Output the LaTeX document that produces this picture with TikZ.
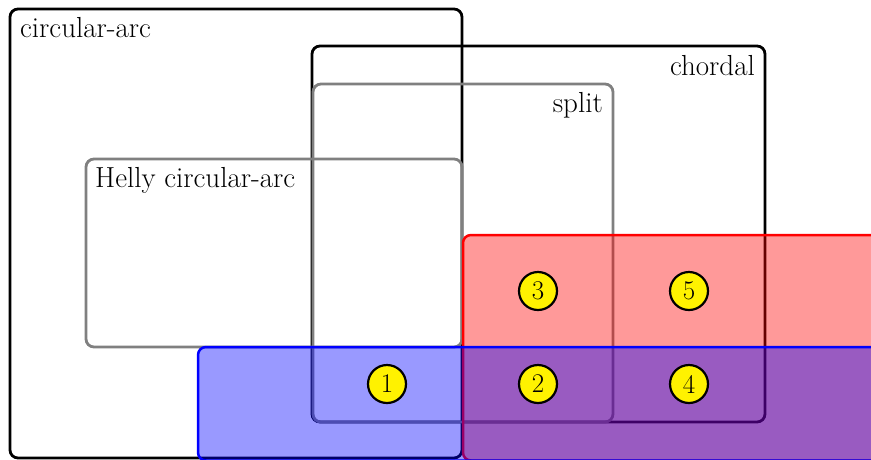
\documentclass[tikz,border=0pt]{standalone}
\begin{document}
\begin{tikzpicture}[x=1pt,y=-1pt,
  setbox/.style={rounded corners=8pt,line width=2.8pt},
  blackbox/.style={setbox,draw=black},
  graybox/.style={setbox,draw=black!50},
  redbox/.style={setbox,draw=red,fill=red,fill opacity=0.4,line width=2.5pt},
  bluebox/.style={setbox,draw=blue,fill=blue,fill opacity=0.4,line width=2.5pt},
  lbl/.style={font=\fontsize{29}{34}\selectfont,inner sep=0pt},
  num/.style={circle,draw=black,line width=2.2pt,fill=yellow,minimum size=38pt,inner sep=0pt,font=\fontsize{27}{32}\selectfont}]
\clip (0,0) rectangle (871,459);
\fill[white] (0,0) rectangle (871,459);
% boxes
\draw[blackbox] (10,9) rectangle (462,458);
\draw[blackbox] (312,46) rectangle (765,422);
\draw[graybox] (313,84) rectangle (613,422);
\draw[graybox] (86,159) rectangle (462,347);
\draw[redbox] (463,235) rectangle (890,460.5);
\draw[bluebox] (198,347) rectangle (890,460.5);
% labels
\node[lbl,anchor=base west] (lca) at (20,37.5) {circular-arc};
\node[lbl,anchor=base east] (lch) at (755,75) {chordal};
\node[lbl,anchor=base east] (lsp) at (603,112.5) {split};
\node[lbl,anchor=base west] (lhe) at (95,187.5) {Helly circular-arc};
% numbers
\node[num] (n1) at (387,384) {1};
\node[num] (n2) at (538,384) {2};
\node[num] (n3) at (538,291) {3};
\node[num] (n4) at (689,384) {4};
\node[num] (n5) at (689,291) {5};
\end{tikzpicture}
\end{document}
